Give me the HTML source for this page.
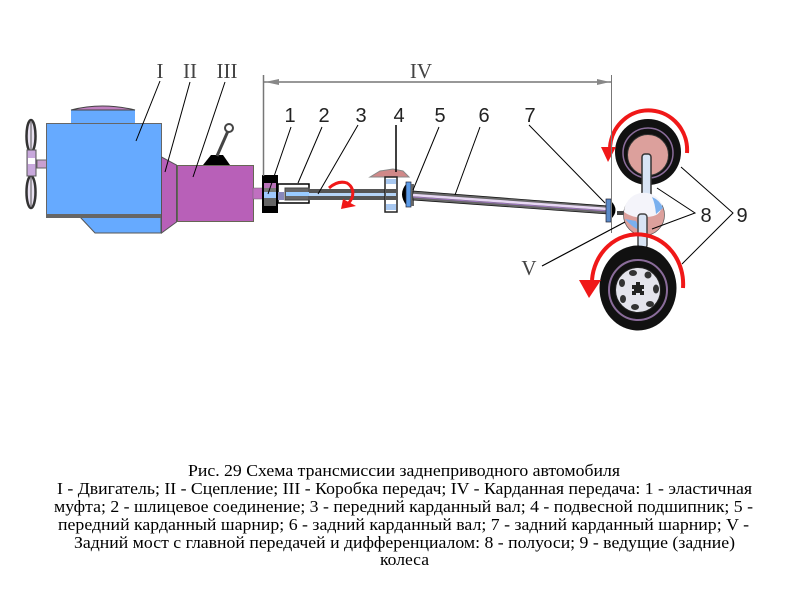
<!DOCTYPE html>
<html><head><meta charset="utf-8"><style>html,body{margin:0;background:#fff}svg{display:block}</style></head><body>
<svg width="800" height="600" viewBox="0 0 800 600" xmlns="http://www.w3.org/2000/svg">
<rect width="800" height="600" fill="#fff"/>
<!-- fan -->
<rect x="37" y="160" width="10" height="8" fill="#c9a0d0" stroke="#666" stroke-width="1"/>
<ellipse cx="31" cy="136" rx="4.500" ry="16" fill="#e8e0f0" stroke="#333" stroke-width="2.500"/>
<ellipse cx="31" cy="192" rx="4.500" ry="16" fill="#e8e0f0" stroke="#333" stroke-width="2.500"/>
<path d="M31 122V150M31 178V206" stroke="#555" stroke-width="1"/>
<rect x="27" y="150" width="9" height="26" fill="#c8a8dc" stroke="#555"/>
<rect x="28" y="158" width="7" height="6" fill="#fff"/>
<!-- engine -->
<rect x="71" y="110" width="64" height="14" fill="#66aaff"/>
<path d="M71 110Q102 102 135 110Z" fill="#c080c0" stroke="#444"/>
<path d="M80 217L95 233H161V217Z" fill="#66aaff" stroke="#555"/>
<rect x="46.500" y="123.500" width="115" height="93" fill="#66aaff" stroke="#666"/>
<rect x="46" y="214" width="116" height="4" fill="#666"/>
<!-- clutch -->
<path d="M161.500 157L176.500 165V222L161.500 233Z" fill="#b860b8" stroke="#555"/>
<!-- gearbox -->
<rect x="177.500" y="165.500" width="76" height="56" fill="#b860b8" stroke="#665"/>
<path d="M203 165L211 155H223L230 165Z" fill="#000"/>
<path d="M217 156L228 131" stroke="#444" stroke-width="3"/>
<circle cx="229" cy="128" r="4" fill="#fff" stroke="#444" stroke-width="2"/>
<!-- coupling -->
<rect x="253" y="188" width="10" height="11" fill="#c070c0" stroke="#666" stroke-width=".5"/>
<rect x="262" y="175" width="16" height="38" fill="#000"/>
<rect x="264" y="183" width="12" height="5" fill="#b870b8"/>
<rect x="264" y="188" width="12" height="7" fill="#777"/>
<rect x="264" y="192" width="12" height="6" fill="#a0c8ff"/>
<rect x="264" y="198" width="12" height="8" fill="#666"/>
<rect x="278" y="184" width="31" height="19" fill="#fff" stroke="#000" stroke-width="1.500"/>
<rect x="278" y="192" width="6" height="8" fill="#88b"/>
<rect x="285" y="188" width="24" height="12" fill="#666" stroke="#444"/>
<rect x="286" y="192" width="23" height="4" fill="#9cf"/>
<!-- front shaft -->
<rect x="309" y="189" width="76" height="11" fill="#555"/>
<rect x="309" y="193" width="76" height="3" fill="#b4d4f8"/>
<!-- bearing -->
<path d="M370 177L380 171L393 169L403 171L409 177Z" fill="#d08888" stroke="#888"/>
<rect x="385" y="177" width="12" height="35" fill="#fff" stroke="#222" stroke-width="1.500"/>
<rect x="385" y="189" width="12" height="11" fill="#555"/>
<rect x="386" y="193" width="10" height="3" fill="#b4d4f8"/>
<rect x="386" y="179" width="10" height="5" fill="#a8c8f0"/>
<rect x="386" y="204" width="10" height="6" fill="#a8c8f0"/>
<!-- universal joint 5 -->
<path d="M407 183Q397 194 407 206Z" fill="#000"/>
<rect x="406" y="182" width="5" height="25" fill="#5a9ae8" stroke="#223" stroke-width=".7"/>
<rect x="411" y="184" width="3" height="22" fill="#666"/>
<!-- rear shaft -->
<path d="M413 191L608 206V214L413 200Z" fill="#666" stroke="#111" stroke-width=".7"/>
<path d="M413 195L608 209" stroke="#e8d8f4" stroke-width="2.500"/>
<path d="M413 197L608 211" stroke="#a078c0" stroke-width="1"/>
<!-- universal joint 7 -->
<rect x="606" y="199" width="5" height="23" fill="#5a8ac8" stroke="#223" stroke-width=".7"/>
<path d="M611 201Q620 210 611 219Z" fill="#000"/>
<rect x="617" y="211" width="8" height="4" fill="#444"/>
<!-- top wheel -->
<circle cx="648" cy="152" r="33" fill="#111"/>
<circle cx="648" cy="153" r="25" fill="none" stroke="#8a6c9a" stroke-width="1.500"/>
<circle cx="648" cy="155" r="20.500" fill="#dca09c" stroke="#333" stroke-width="1"/>
<rect x="642" y="154" width="9" height="45" rx="3" fill="#d8e4f4" stroke="#333" stroke-width="1.500"/>
<!-- differential -->
<circle cx="644" cy="215" r="20.500" fill="#dca09c" stroke="#555" stroke-width=".7"/>
<path d="M624 212A20 20 0 0 1 662 204Q662 217 646 217Q634 219 624 212Z" fill="#f4f4fa"/>
<path d="M652 197A20 20 0 0 1 663 208L656 214Q655 203 652 197Z" fill="#7ab0ee"/>
<path d="M625 219Q634 229 640 230L636 221Z" fill="#7ab0ee"/>
<rect x="638" y="214" width="9" height="34" rx="3" fill="#d8e4f4" stroke="#444" stroke-width="1.500"/>
<!-- bottom wheel -->
<ellipse cx="638" cy="288" rx="38.500" ry="42.500" fill="#111"/>
<ellipse cx="638" cy="290" rx="29" ry="30" fill="none" stroke="#8a6c9a" stroke-width="2"/>
<ellipse cx="638" cy="290" rx="22.500" ry="22.500" fill="#e4e4ec" stroke="#222"/>
<g fill="#333">
<ellipse cx="633" cy="273" rx="4" ry="3"/><ellipse cx="648" cy="275" rx="3.500" ry="3.500"/><ellipse cx="656" cy="289" rx="3" ry="4.500"/><ellipse cx="650" cy="304" rx="4" ry="3"/><ellipse cx="635" cy="307" rx="4" ry="3"/><ellipse cx="623" cy="299" rx="3" ry="4"/><ellipse cx="622" cy="283" rx="3" ry="4"/>
</g>
<path d="M632 285h4v-3h4v3h4v4h-2v2h2v4h-4v-2h-4v2h-4v-4h2v-2h-2z" fill="#222"/>
<!-- red arrows -->
<g fill="none" stroke="#f01818" stroke-width="4">
<path d="M687 153A38 39 0 0 0 610 147"/>
<path d="M683 288A45 49 0 0 0 592 280"/>
</g>
<path d="M601 147H616L608 162Z" fill="#f01818"/>
<path d="M579 280H601L589 298Z" fill="#f01818"/>
<path d="M329 188Q338 180 347 183Q355 188 352 198Q349 204 345 206" fill="none" stroke="#f01818" stroke-width="3"/>
<path d="M341 209L343 199L356 206Z" fill="#f01818"/>
<!-- dimension -->
<g stroke="#777" fill="none">
<path d="M263.500 75V176" stroke-width="1.500"/>
<path d="M611.500 75V233" stroke-width="1"/>
<path d="M263 82H611" stroke-width="1.500"/>
</g>
<path d="M265 82L279 79V85Z M610 82L597 79V85Z" fill="#888"/>
<!-- leaders -->
<g stroke="#000" stroke-width="1" fill="none">
<path d="M160 81L136 141"/><path d="M190 82L165 172"/><path d="M225 82L193 177"/>
<path d="M291 127L268 194"/><path d="M322 127L298 183"/><path d="M358 125L318 194"/>
<path d="M396 125V172" stroke-width="1.500"/><path d="M439 127L413 190"/><path d="M480 127L455 195"/>
<path d="M529 125L605 203"/>
<path d="M542 266L625 222" stroke-width="1.200"/>
<path d="M657 188L695 213L652 229"/><path d="M681 167L733 213L682 264"/>
</g>
<!-- labels -->
<g font-family="'Liberation Serif',serif" font-size="21" fill="#444" text-anchor="middle">
<text x="160" y="78">I</text><text x="190" y="78">II</text><text x="227" y="78">III</text><text x="421" y="78">IV</text><text x="529" y="275">V</text>
</g>
<g font-family="'Liberation Sans',sans-serif" font-size="20" fill="#222" text-anchor="middle">
<text x="290" y="122">1</text><text x="324" y="122">2</text><text x="361" y="122">3</text><text x="399" y="122">4</text><text x="440" y="122">5</text><text x="484" y="122">6</text><text x="530" y="122">7</text><text x="706" y="222">8</text><text x="742" y="222">9</text>
</g>
<!-- caption -->
<g font-family="'Liberation Serif','Noto Serif CJK SC',serif" font-size="17" fill="#000">
<text x="188" y="476" textLength="432" lengthAdjust="spacingAndGlyphs">Рис. 29 Схема трансмиссии заднеприводного автомобиля</text>
<text x="57" y="494" textLength="695" lengthAdjust="spacingAndGlyphs">I - Двигатель; II - Сцепление; III - Коробка передач; IV - Карданная передача: 1 - эластичная</text>
<text x="54" y="512" textLength="699" lengthAdjust="spacingAndGlyphs">муфта; 2 - шлицевое соединение; 3 - передний карданный вал; 4 - подвесной подшипник; 5 -</text>
<text x="58" y="530" textLength="691" lengthAdjust="spacingAndGlyphs">передний карданный шарнир; 6 - задний карданный вал; 7 - задний карданный шарнир; V -</text>
<text x="74" y="548" textLength="661" lengthAdjust="spacingAndGlyphs">Задний мост с главной передачей и дифференциалом: 8 - полуоси; 9 - ведущие (задние)</text>
<text x="380" y="565" textLength="49" lengthAdjust="spacingAndGlyphs">колеса</text>
</g>
</svg>
</body></html>
